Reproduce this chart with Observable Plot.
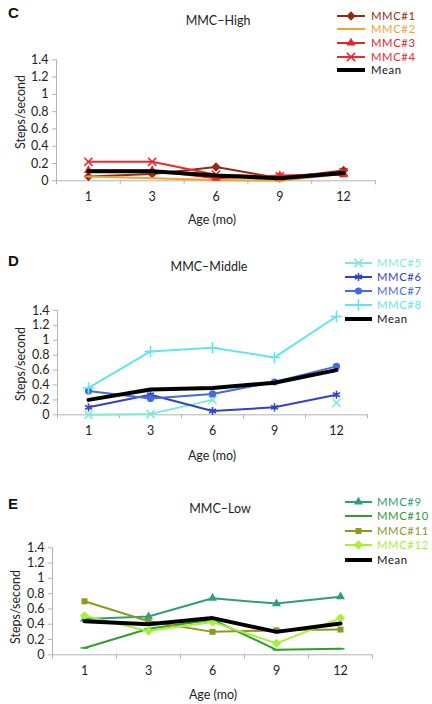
<!DOCTYPE html>
<html>
<head>
<meta charset="utf-8">
<script src="https://cdn.jsdelivr.net/npm/d3@7"></script>
<script src="https://cdn.jsdelivr.net/npm/@observablehq/plot@0.6"></script>
<style>
  html, body { margin: 0; padding: 0; background: #fff; }
  #root { position: relative; width: 432px; height: 704px; overflow: hidden; font-family: Lato, "Open Sans", sans-serif; color: #222; }
  .t { position: absolute; white-space: nowrap; line-height: 1; }
  .panel { position: absolute; left: 0; }
</style>
</head>
<body>
<div id="root"></div>
<script>
// ---------- data ----------
const ages = ["1", "3", "6", "9", "12"];
const yTicks = [0, 0.2, 0.4, 0.6, 0.8, 1, 1.2, 1.4];

// Panel C: MMC-High
const mmc1 = [0.05, 0.08, 0.16, 0.03, 0.12];
const mmc2 = [0.05, 0.03, 0.01, 0.00, 0.08];
const mmc3 = [0.12, 0.12, 0.03, 0.06, 0.07];
const mmc4 = [0.22, 0.22, 0.07, 0.05, 0.10];
const meanHigh = [0.11, 0.11, 0.06, 0.03, 0.09];

// Panel D: MMC-Middle
const mmc5 = [0.00, 0.01, 0.20, null, 0.16];
const mmc6 = [0.10, 0.27, 0.05, 0.10, 0.27];
const mmc7 = [0.32, 0.22, 0.28, 0.44, 0.65];
const mmc8 = [0.36, 0.85, 0.90, 0.77, 1.32];
const meanMid = [0.20, 0.34, 0.36, 0.43, 0.60];

// Panel E: MMC-Low
const mmc9 = [0.47, 0.50, 0.74, 0.67, 0.76];
const mmc10 = [0.09, 0.34, 0.46, 0.065, 0.08];
const mmc11 = [0.70, 0.44, 0.30, 0.32, 0.33];
const mmc12 = [0.51, 0.31, 0.43, 0.15, 0.48];
const meanLow = [0.44, 0.40, 0.48, 0.30, 0.41];

// ---------- symbols ----------
const dashSym = { draw(ctx, size) { const r = Math.sqrt(size / Math.PI) * 1.1; ctx.moveTo(-r, 0); ctx.lineTo(r, 0); } };
const SYM = {
  diamond: { plot: "diamond2", d3: d3.symbolDiamond2, filled: true, r: 4.2 },
  dash: { plot: dashSym, d3: dashSym, filled: false, r: 3.6 },
  triangle: { plot: "triangle2", d3: d3.symbolTriangle2, filled: true, r: 4.3 },
  times: { plot: "times", d3: d3.symbolTimes, filled: false, r: 3.8 },
  asterisk: { plot: "asterisk", d3: d3.symbolAsterisk, filled: false, r: 3.8 },
  circle: { plot: "circle", d3: d3.symbolCircle, filled: true, r: 3.6 },
  plus: { plot: "plus", d3: d3.symbolPlus, filled: false, r: 3.8 },
  square: { plot: "square2", d3: d3.symbolSquare2, filled: true, r: 3.8 },
  none: null
};

const panels = [
  {
    letter: "C", title: "MMC\u2013High",
    top: 0, h: 212, yTop: 59.3, yZero: 180.3, xL: 56, xR: 375,
    letterPos: [8, 12], titlePos: [218, 21], xLabPos: [212, 220], yLabPos: [21, 112],
    legLine: [337, 365], legText: 371, legRows: [15.7, 29.3, 43.2, 56.7, 70.2],
    series: [
      { name: "MMC#1", values: mmc1, color: "#922b14", sym: "diamond" },
      { name: "MMC#2", values: mmc2, color: "#f5a032", sym: "dash" },
      { name: "MMC#3", values: mmc3, color: "#e8242b", sym: "triangle" },
      { name: "MMC#4", values: mmc4, color: "#ec2a2f", sym: "times" },
      { name: "Mean", values: meanHigh, color: "#000000", sym: "none", mean: true }
    ]
  },
  {
    letter: "D", title: "MMC\u2013Middle",
    top: 240, h: 206, yTop: 310, yZero: 414.3, xL: 57, xR: 367,
    letterPos: [8, 260], titlePos: [209, 267], xLabPos: [212, 456], yLabPos: [21, 364],
    legLine: [345, 372], legText: 377, legRows: [263.3, 277.3, 291.3, 305, 319.3],
    series: [
      { name: "MMC#5", values: mmc5, color: "#7eebd4", sym: "times" },
      { name: "MMC#6", values: mmc6, color: "#3241c6", sym: "asterisk" },
      { name: "MMC#7", values: mmc7, color: "#4469e0", sym: "circle" },
      { name: "MMC#8", values: mmc8, color: "#62e4f0", sym: "plus" },
      { name: "Mean", values: meanMid, color: "#000000", sym: "none", mean: true }
    ]
  },
  {
    letter: "E", title: "MMC\u2013Low",
    top: 480, h: 210, yTop: 547.3, yZero: 654.3, xL: 52, xR: 372,
    letterPos: [8, 503], titlePos: [220, 509], xLabPos: [213, 695], yLabPos: [16, 607],
    legLine: [345, 372], legText: 377, legRows: [502.3, 516.3, 530.7, 545.3, 560],
    series: [
      { name: "MMC#9", values: mmc9, color: "#2f9c7b", sym: "triangle" },
      { name: "MMC#10", values: mmc10, color: "#2ca02c", sym: "dash" },
      { name: "MMC#11", values: mmc11, color: "#8a9a1c", sym: "square" },
      { name: "MMC#12", values: mmc12, color: "#a6f03a", sym: "diamond" },
      { name: "Mean", values: meanLow, color: "#000000", sym: "none", mean: true }
    ]
  }
];

const root = document.getElementById("root");
function addText(x, y, str, opts = {}) {
  const el = document.createElement("div");
  el.className = "t";
  el.textContent = str;
  el.style.left = x + "px";
  el.style.top = y + "px";
  el.style.fontSize = (opts.size || 12) + "px";
  if (opts.weight) el.style.fontWeight = opts.weight;
  if (opts.family) el.style.fontFamily = opts.family;
  if (opts.spacing) el.style.letterSpacing = opts.spacing + "px";
  el.style.color = opts.color || "#222";
  const ax = opts.anchor === "start" ? "0" : "-50%";
  el.style.transform = `translate(${ax}, -50%)` + (opts.rotate ? ` rotate(${opts.rotate}deg)` : "");
  root.appendChild(el);
  return el;
}

const AXIS = "#b3b3b3";

for (const p of panels) {
  const marginTop = p.yTop - p.top;
  const marginBottom = p.top + p.h - p.yZero;
  const marks = [
    Plot.ruleY([0], { stroke: AXIS, strokeWidth: 1 }),
    Plot.ruleX([0], { stroke: AXIS, strokeWidth: 1 }),
    Plot.axisY({ ticks: yTicks, tickSize: 4, tickFormat: () => "", stroke: AXIS, label: null }),
    Plot.axisY({ ticks: yTicks, tickSize: 0, tickPadding: 8, tickFormat: d => String(+d.toFixed(1)), fill: "#222", fontSize: 12.5, label: null }),
    Plot.axisX({ ticks: [0, 1, 2, 3, 4, 5], tickSize: 4, tickFormat: () => "", stroke: AXIS, label: null }),
    Plot.axisX({ ticks: [0.5, 1.5, 2.5, 3.5, 4.5], tickSize: 0, tickPadding: 11, tickFormat: d => ages[Math.floor(d)], fill: "#222", fontSize: 12.5, label: null })
  ];
  for (const s of p.series) {
    const rows = ages.map((a, i) => ({ x: i + 0.5, y: s.values[i] }));
    marks.push(Plot.line(rows, { x: "x", y: "y", stroke: s.color, strokeWidth: s.mean ? 4 : 2 }));
    const sy = SYM[s.sym];
    if (sy) {
      const defined = rows.filter(r => r.y != null);
      marks.push(Plot.dot(defined, sy.filled
        ? { x: "x", y: "y", symbol: sy.plot, fill: s.color, stroke: "none", r: sy.r }
        : { x: "x", y: "y", symbol: sy.plot, fill: "none", stroke: s.color, strokeWidth: 1.6, r: sy.r }));
    }
  }
  const chart = Plot.plot({
    width: 432, height: p.h,
    marginLeft: p.xL, marginRight: 432 - p.xR, marginTop, marginBottom,
    x: { type: "linear", domain: [0, 5], axis: null },
    y: { type: "linear", domain: [0, 1.4], axis: null },
    style: { fontFamily: "Lato, 'Open Sans', sans-serif", fontSize: "12.5px", color: "#222", background: "transparent", overflow: "visible" },
    marks
  });
  const wrap = document.createElement("div");
  wrap.className = "panel";
  wrap.style.top = p.top + "px";
  wrap.appendChild(chart);
  root.appendChild(wrap);

  addText(p.letterPos[0], p.letterPos[1], p.letter, { size: 15, weight: "bold", anchor: "start", family: "'Liberation Sans', Arial, sans-serif", color: "#111" });
  addText(p.titlePos[0], p.titlePos[1], p.title, { size: 12.5 });
  addText(p.xLabPos[0], p.xLabPos[1], "Age (mo)", { size: 12.5 });
  addText(p.yLabPos[0], p.yLabPos[1], "Steps/second", { size: 12.5, rotate: -90 });

  // legend
  p.series.forEach((s, i) => {
    const y = p.legRows[i];
    const x0 = p.legLine[0], x1 = p.legLine[1];
    const svgNS = "http://www.w3.org/2000/svg";
    const svg = document.createElementNS(svgNS, "svg");
    svg.setAttribute("width", x1 - x0 + 4);
    svg.setAttribute("height", 12);
    svg.style.position = "absolute";
    svg.style.left = (x0 - 2) + "px";
    svg.style.top = (y - 6) + "px";
    const line = document.createElementNS(svgNS, "line");
    line.setAttribute("x1", 2); line.setAttribute("x2", x1 - x0 + 2);
    line.setAttribute("y1", 6); line.setAttribute("y2", 6);
    line.setAttribute("stroke", s.color);
    line.setAttribute("stroke-width", s.mean ? 4 : 2);
    svg.appendChild(line);
    const sy = SYM[s.sym];
    if (sy) {
      const path = document.createElementNS(svgNS, "path");
      path.setAttribute("d", d3.symbol(sy.d3, Math.PI * sy.r * sy.r)());
      path.setAttribute("transform", `translate(${(x1 - x0) / 2 + 2},6)`);
      if (sy.filled) { path.setAttribute("fill", s.color); }
      else { path.setAttribute("fill", "none"); path.setAttribute("stroke", s.color); path.setAttribute("stroke-width", 1.6); }
      svg.appendChild(path);
    }
    root.appendChild(svg);
    addText(p.legText, y, s.name, { size: 11.3, spacing: 0.6, anchor: "start", color: s.mean ? "#111" : s.color });
  });
}
</script>
</body>
</html>
